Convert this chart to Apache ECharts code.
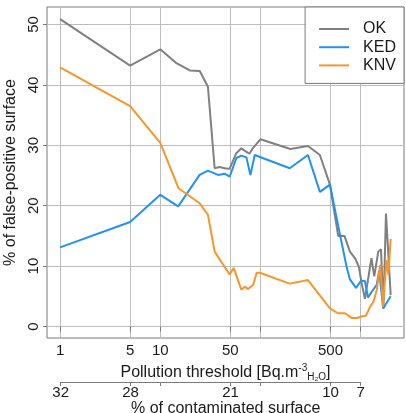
<!DOCTYPE html>
<html>
<head>
<meta charset="utf-8">
<script src="https://cdn.jsdelivr.net/npm/echarts@6/dist/echarts.min.js"></script>
<style>
html, body { margin: 0; padding: 0; background: #fff; }
#main { width: 406px; height: 413px; }
</style>
</head>
<body>
<div id="main"></div>
<script>
var seriesNames = ['OK', 'KED', 'KNV'];
var seriesColors = ['#808080', '#2391f2', '#f7962a'];

// pollution threshold (Bq/m3) and % of false-positive surface
var okThreshold = [1, 5, 10, 14.5, 19.7, 24.8, 29.9, 34.9, 39, 44, 49.2, 57.4, 64.4, 71.3, 77.6, 83.7, 100, 199, 298, 392, 494, 597, 690, 782, 880, 960, 1023, 1104, 1282, 1368, 1500, 1596, 1690, 1791, 1995];
var okValue = [50.9, 43.2, 45.9, 43.6, 42.4, 42.3, 39.7, 26.2, 26.4, 26.2, 26.1, 28.7, 29.5, 29.0, 28.6, 29.5, 31.0, 29.4, 29.9, 28.4, 23.5, 15.0, 15.0, 12.4, 11.3, 9.9, 7.2, 4.6, 11.3, 8.3, 12.4, 12.8, 3.0, 18.7, 5.2];

var kedThreshold = [1, 5, 10, 15.1, 24.7, 29.9, 37.7, 43.9, 49.3, 57.5, 64.4, 72.4, 79.4, 87.7, 91.2, 196, 298, 392, 494, 617, 724, 782, 900, 1000, 1100, 1185, 1320, 1445, 1530, 1680, 1995];
var kedValue = [13.1, 17.3, 21.8, 19.9, 25.1, 25.8, 25.1, 25.3, 24.8, 27.9, 28.3, 28.0, 25.1, 28.4, 28.6, 26.2, 28.4, 22.3, 23.5, 15.5, 9.9, 7.8, 6.4, 7.5, 7.6, 4.8, 6.0, 6.9, 9.2, 3.0, 5.0];

var knvThreshold = [1, 5, 10, 15.2, 19.6, 24.7, 29.9, 34.9, 49.2, 54, 64.4, 69.7, 75.3, 84.7, 91.6, 98.6, 196, 298, 494, 594, 700, 818, 920, 1040, 1130, 1245, 1343, 1451, 1570, 1670, 1760, 1820, 1890, 1995];
var knvValue = [42.9, 36.5, 30.4, 22.9, 21.6, 20.4, 18.5, 12.4, 8.6, 9.7, 6.1, 6.6, 6.2, 6.9, 8.9, 8.9, 7.1, 7.7, 3.0, 2.2, 2.2, 1.4, 1.4, 1.7, 1.8, 3.3, 4.1, 6.1, 10.2, 3.3, 8.3, 11.0, 8.6, 14.5];

var thresholdTicks = [1, 5, 10, 50, 100, 500, 1000];
var thresholdLabels = [1, 5, 10, 50, 500];
var yTicks = [0, 10, 20, 30, 40, 50];
var contamAt = [1, 5, 50, 500, 1000];
var contamLabels = ['32', '28', '21', '10', '7'];

function pairs(xs, ys) {
    return xs.map(function (x, i) { return [x, ys[i]]; });
}

var font = 'Liberation Sans';
var txt = '#1a1a1a';
var frame = '#7a7a7a';
var gridColor = '#bdbdbd';

var myChart = echarts.init(document.getElementById('main'));
var option = {
    animation: false,
    backgroundColor: '#fff',
    textStyle: { fontFamily: font },
    grid: [
        { left: 47, top: 7, width: 357, height: 331, show: true, borderColor: frame, borderWidth: 1, containLabel: false, outerBoundsMode: 'none' },
        { left: 60.7, top: 378, width: 300, height: 4, show: false, containLabel: false, outerBoundsMode: 'none' }
    ],
    legend: {
        data: seriesNames.map(function (n) { return { name: n, icon: 'rect' }; }),
        orient: 'vertical',
        right: 2,
        top: 7,
        padding: [14, 8, 10, 14],
        itemWidth: 30,
        itemHeight: 2,
        itemGap: 2.2,
        backgroundColor: '#fff',
        borderColor: frame,
        borderWidth: 1,
        borderRadius: 0,
        z: 10,
        textStyle: { fontFamily: font, fontSize: 16, color: txt, lineHeight: 14, padding: [0, 0, 0, 9] }
    },
    xAxis: [
        {
            type: 'log',
            gridIndex: 0,
            min: 0.74,
            max: 2710,
            name: '{t|Pollution threshold [Bq.m}{sup|-3}{sub|H\u2082O}{t|]}',
            nameLocation: 'middle',
            nameGap: 1,
            nameTextStyle: {
                rich: {
                    t: { fontFamily: font, fontSize: 16, color: txt, lineHeight: 19 },
                    sup: { fontFamily: font, fontSize: 10, color: txt, verticalAlign: 'top', lineHeight: 10 },
                    sub: { fontFamily: font, fontSize: 10, color: txt, verticalAlign: 'bottom', lineHeight: 10 }
                }
            },
            axisLine: { show: false },
            axisTick: { show: true, customValues: thresholdTicks, length: 5, lineStyle: { color: frame } },
            minorTick: { show: false },
            axisLabel: {
                customValues: thresholdLabels,
                margin: 5,
                fontSize: 15,
                color: txt,
                fontFamily: font,
                formatter: function (v) { return String(v); }
            },
            splitLine: { show: true, lineStyle: { color: gridColor, width: 1 } },
            minorSplitLine: { show: false }
        },
        {
            type: 'log',
            gridIndex: 1,
            min: 1,
            max: 1000,
            name: '% of contaminated surface',
            nameLocation: 'middle',
            nameGap: 19,
            nameTextStyle: { fontFamily: font, fontSize: 16, color: txt, padding: [0, 0, 0, 30] },
            axisLine: { show: true, lineStyle: { color: frame, width: 1 } },
            axisTick: { show: true, customValues: thresholdTicks, length: 4, lineStyle: { color: frame } },
            minorTick: { show: false },
            axisLabel: {
                customValues: contamAt,
                margin: 3,
                fontSize: 15,
                color: txt,
                fontFamily: font,
                formatter: function (v) {
                    var i = contamAt.indexOf(Math.round(v));
                    return i >= 0 ? contamLabels[i] : '';
                }
            },
            splitLine: { show: false }
        }
    ],
    yAxis: [
        {
            type: 'value',
            gridIndex: 0,
            min: -1.9,
            max: 52.9,
            name: '% of false-positive surface',
            nameLocation: 'middle',
            nameGap: 17,
            nameTextStyle: { fontFamily: font, fontSize: 16, color: txt },
            axisLine: { show: false },
            axisTick: { show: true, customValues: yTicks, length: 4, lineStyle: { color: frame } },
            axisLabel: { customValues: yTicks, rotate: 90, margin: 6, fontSize: 15, color: txt, fontFamily: font },
            splitLine: { show: true, lineStyle: { color: gridColor, width: 1 } }
        },
        {
            type: 'value',
            gridIndex: 1,
            min: 0,
            max: 1,
            show: false
        }
    ],
    series: [
        {
            name: 'OK',
            type: 'line',
            xAxisIndex: 0,
            yAxisIndex: 0,
            symbol: 'none',
            color: seriesColors[0],
            lineStyle: { width: 2, color: seriesColors[0] },
            data: pairs(okThreshold, okValue)
        },
        {
            name: 'KED',
            type: 'line',
            xAxisIndex: 0,
            yAxisIndex: 0,
            symbol: 'none',
            color: seriesColors[1],
            lineStyle: { width: 2, color: seriesColors[1] },
            data: pairs(kedThreshold, kedValue)
        },
        {
            name: 'KNV',
            type: 'line',
            xAxisIndex: 0,
            yAxisIndex: 0,
            symbol: 'none',
            color: seriesColors[2],
            lineStyle: { width: 2, color: seriesColors[2] },
            data: pairs(knvThreshold, knvValue)
        }
    ]
};

myChart.setOption(option);
</script>
</body>
</html>
